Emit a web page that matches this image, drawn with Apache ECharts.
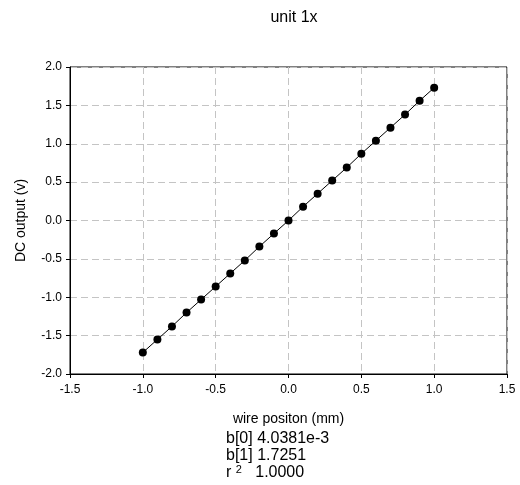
<!DOCTYPE html>
<html>
<head>
<meta charset="utf-8">
<script src="https://cdn.jsdelivr.net/npm/echarts@6/dist/echarts.min.js"></script>
<style>
  html, body { margin: 0; padding: 0; background: #fff; }
  #chart { width: 520px; height: 485px; }
</style>
</head>
<body>
<div id="chart"></div>
<script>
var positions = [-1.0, -0.9, -0.8, -0.7, -0.6, -0.5, -0.4, -0.3, -0.2, -0.1, 0.0,
                 0.1, 0.2, 0.3, 0.4, 0.5, 0.6, 0.7, 0.8, 0.9, 1.0];
var outputs = [-1.72, -1.55, -1.38, -1.20, -1.03, -0.86, -0.69, -0.52, -0.34, -0.17, 0.00,
               0.18, 0.35, 0.52, 0.69, 0.87, 1.04, 1.21, 1.38, 1.56, 1.73];
var fitLines = ['b[0] 4.0381e-3', 'b[1] 1.7251'];
var r2Value = '1.0000';

var points = positions.map(function (x, i) { return [x, outputs[i]]; });
var font = 'Liberation Sans, Arial, sans-serif';

var chart = echarts.init(document.getElementById('chart'));
chart.setOption({
    animation: false,
    title: {
        text: 'unit 1x',
        left: 289,
        top: 5,
        textAlign: 'center',
        textStyle: { fontFamily: font, fontSize: 16, fontWeight: 'normal', color: '#000' }
    },
    grid: {
        left: 70, right: 13, top: 67, bottom: 111,
        show: true, borderColor: '#000', borderWidth: 1
    },
    xAxis: {
        type: 'value', min: -1.5, max: 1.5, interval: 0.5,
        name: 'wire positon (mm)', nameLocation: 'middle', nameGap: 38,
        nameTextStyle: { fontFamily: font, fontSize: 14, color: '#000' },
        axisLine: { onZero: false, lineStyle: { color: '#000' } },
        axisTick: { length: 4, lineStyle: { color: '#000' } },
        axisLabel: { fontFamily: font, fontSize: 12, color: '#000', margin: 10,
            formatter: function (v) { return v.toFixed(1); } },
        splitLine: { lineStyle: { color: '#c4c4c4', type: [7, 4] } }
    },
    yAxis: {
        type: 'value', min: -2, max: 2, interval: 0.5,
        name: 'DC output (v)', nameLocation: 'middle', nameGap: 42,
        nameTextStyle: { fontFamily: font, fontSize: 14, color: '#000' },
        axisLine: { onZero: false, lineStyle: { color: '#000' } },
        axisTick: { length: 4, lineStyle: { color: '#000' } },
        axisLabel: { fontFamily: font, fontSize: 12, color: '#000', margin: 8,
            formatter: function (v) { return v.toFixed(1); } },
        splitLine: { lineStyle: { color: '#c4c4c4', type: [7, 4] } }
    },
    series: [{
        type: 'line',
        data: points,
        symbol: 'circle',
        symbolSize: 8,
        itemStyle: { color: '#000' },
        lineStyle: { color: '#000', width: 1 }
    }],
    graphic: [{
        type: 'text', left: 226, top: 430,
        style: {
            text: fitLines.join('\n') + '\n{r|r }{s|2}{r|   ' + r2Value + '}',
            font: '16px ' + font, fill: '#000', lineHeight: 17,
            rich: {
                r: { fontFamily: font, fontSize: 16, lineHeight: 17 },
                s: { fontFamily: font, fontSize: 11, verticalAlign: 'top', lineHeight: 17 }
            }
        }
    }]
});
</script>
</body>
</html>
